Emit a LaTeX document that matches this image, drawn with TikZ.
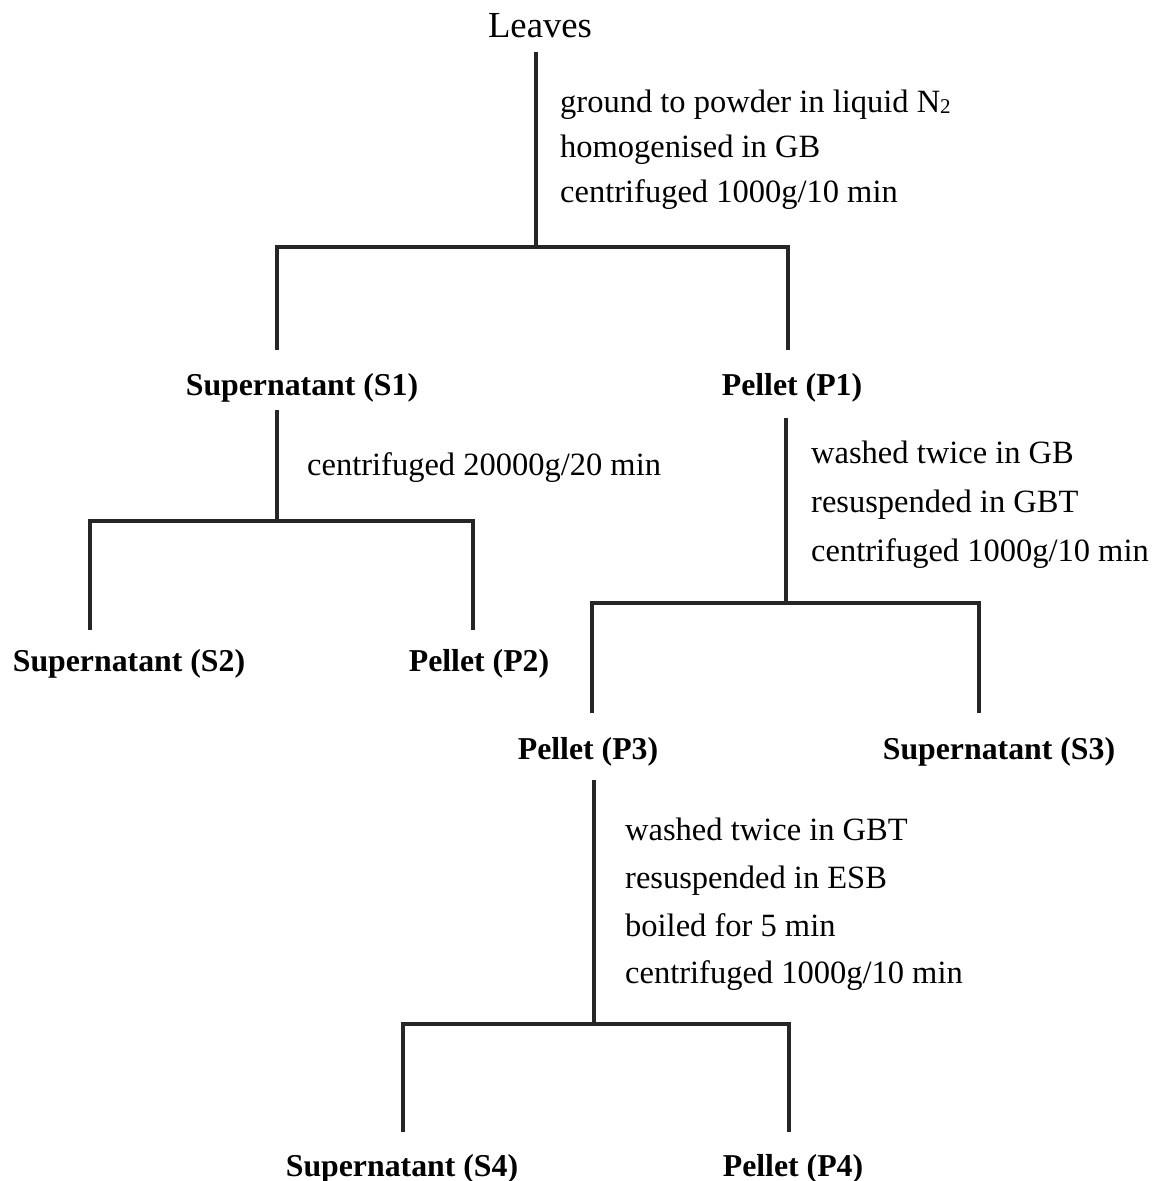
\documentclass[tikz,border=0pt]{standalone}
\usepackage{fontspec}
\setmainfont{Liberation Serif}
\begin{document}
\begin{tikzpicture}[x=1pt,y=-1pt,
  reg/.style={anchor=base west, inner sep=0pt, font=\fontsize{32.5}{39}\selectfont},
  res/.style={anchor=base, inner sep=0pt, font=\fontsize{31.8}{38}\selectfont\bfseries},
  ln/.style={line width=3.1pt, line join=miter, draw=black!85}]
\useasboundingbox (0,0) rectangle (1162,1181);

% top
\node[anchor=base, inner sep=0pt, font=\fontsize{36.7}{44}\selectfont] (leaves) at (540,37) {Leaves};
\node[reg] (a1) at (560,112) {ground to powder in liquid N{\fontsize{21}{21}\selectfont\raisebox{-1.5pt}{2}}};
\node[reg] (a2) at (560,157) {homogenised in GB};
\node[reg] (a3) at (560,202) {centrifuged 1000g/10 min};

% results
\node[res] (S1) at (302,395) {Supernatant (S1)};
\node[res] (P1) at (792,395) {Pellet (P1)};
\node[res] (S2) at (129,671) {Supernatant (S2)};
\node[res] (P2) at (479,671) {Pellet (P2)};
\node[res] (P3) at (588,759) {Pellet (P3)};
\node[res] (S3) at (999,759) {Supernatant (S3)};
\node[res] (S4) at (402,1176) {Supernatant (S4)};
\node[res] (P4) at (793,1176) {Pellet (P4)};

% steps
\node[reg] (b1) at (307,475) {centrifuged 20000g/20 min};
\node[reg] (c1) at (811,463) {washed twice in GB};
\node[reg] (c2) at (811,512) {resuspended in GBT};
\node[reg] (c3) at (811,561) {centrifuged 1000g/10 min};
\node[reg] (d1) at (625,840) {washed twice in GBT};
\node[reg] (d2) at (625,888) {resuspended in ESB};
\node[reg] (d3) at (625,936) {boiled for 5 min};
\node[reg] (d4) at (625,983) {centrifuged 1000g/10 min};

% connector coordinates
\coordinate (t0) at (536,52);   \coordinate (j0) at (536,247);
\coordinate (l0) at (277,350);  \coordinate (r0) at (788,350);
\coordinate (t1) at (277,410);  \coordinate (j1) at (277,521);
\coordinate (l1) at (90,630);   \coordinate (r1) at (473,630);
\coordinate (t2) at (786,418);  \coordinate (j2) at (786,603);
\coordinate (l2) at (592,713);  \coordinate (r2) at (979,713);
\coordinate (t3) at (594,780);  \coordinate (j3) at (594,1024);
\coordinate (l3) at (403,1132); \coordinate (r3) at (789,1132);

\draw[ln] (t0) -- (j0);
\draw[ln] (l0) -- (l0 |- j0) -- (r0 |- j0) -- (r0);
\draw[ln] (t1) -- (j1);
\draw[ln] (l1) -- (l1 |- j1) -- (r1 |- j1) -- (r1);
\draw[ln] (t2) -- (j2);
\draw[ln] (l2) -- (l2 |- j2) -- (r2 |- j2) -- (r2);
\draw[ln] (t3) -- (j3);
\draw[ln] (l3) -- (l3 |- j3) -- (r3 |- j3) -- (r3);
\end{tikzpicture}
\end{document}
